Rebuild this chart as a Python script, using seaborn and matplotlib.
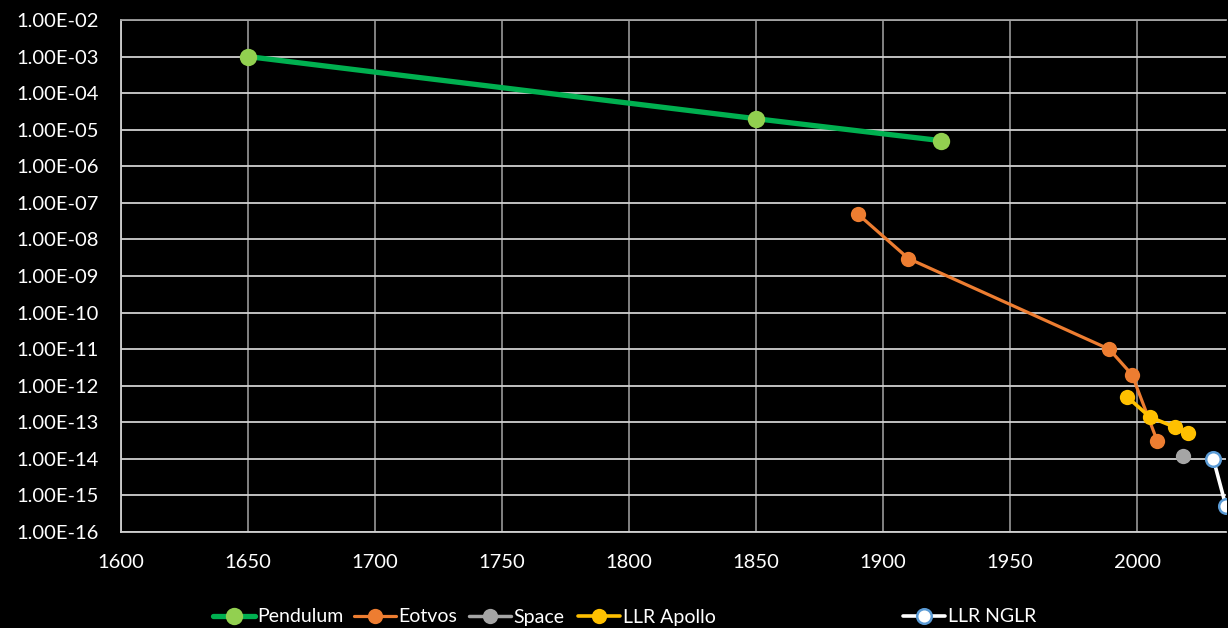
import numpy as np
import pandas as pd
import matplotlib
matplotlib.use("Agg")
import matplotlib.pyplot as plt
import matplotlib.ticker as mticker
from matplotlib.lines import Line2D
import seaborn as sns

# ---- data ----
pendulum_year = [1650, 1850, 1923]
pendulum_val = [1e-3, 2e-5, 5e-6]
eotvos_year = [1890, 1910, 1989, 1998, 2008]
eotvos_val = [5e-8, 3e-9, 1e-11, 2e-12, 3e-14]
space_year = [2018]
space_val = [1.2e-14]
apollo_year = [1996, 2005, 2015, 2020]
apollo_val = [5e-13, 1.4e-13, 7.3e-14, 5e-14]
nglr_year = [2030, 2035]
nglr_val = [1e-14, 5e-16]

series_names = ["Pendulum", "Eotvos", "Space", "LLR Apollo", "LLR NGLR"]

sns.set_theme(style="dark")
plt.rcParams["font.family"] = ["Lato", "DejaVu Sans"]

W, H = 1228, 628
fig = plt.figure(figsize=(W / 100, H / 100), dpi=100, facecolor="black")
ax = fig.add_axes([121 / W, (H - 532) / H, (1226 - 121) / W, (532 - 20) / H])
ax.set_facecolor("black")

styles = [
    dict(line="#00B050", face="#92D050", edge="#92D050", lw=3.8, ms=12.5),
    dict(line="#ED7D31", face="#ED7D31", edge="#ED7D31", lw=2.3, ms=11),
    dict(line="#A5A5A5", face="#A5A5A5", edge="#A5A5A5", lw=2.5, ms=11),
    dict(line="#FFC000", face="#FFC000", edge="#FFC000", lw=2.6, ms=11),
    dict(line="#FFFFFF", face="#FFFFFF", edge="#5B9BD5", lw=2.6, ms=10.5),
]
data = [
    (pendulum_year, pendulum_val),
    (eotvos_year, eotvos_val),
    (space_year, space_val),
    (apollo_year, apollo_val),
    (nglr_year, nglr_val),
]

for name, (xs, ys), st in zip(series_names, data, styles):
    df = pd.DataFrame({"year": xs, "value": ys})
    sns.lineplot(data=df, x="year", y="value", ax=ax, color=st["line"],
                 linewidth=st["lw"], marker="o", markersize=st["ms"],
                 markerfacecolor=st["face"], markeredgecolor=st["edge"],
                 markeredgewidth=1.8 if name == "LLR NGLR" else 0,
                 zorder=3, legend=False)

ax.set_yscale("log")
ax.set_ylim(1e-16, 1e-2)
ax.set_xlim(1600, 2035)
ax.yaxis.set_major_locator(mticker.FixedLocator(10.0 ** np.arange(-16, -1)))
ax.yaxis.set_minor_locator(mticker.NullLocator())
ax.yaxis.set_major_formatter(mticker.FuncFormatter(lambda v, p: f"{v:.2E}"))
ax.xaxis.set_major_locator(mticker.MultipleLocator(50))
ax.xaxis.set_major_formatter(mticker.FuncFormatter(lambda v, p: f"{int(v)}"))

ax.grid(True, axis="y", color="#D0D0D0", linewidth=1.3, zorder=1)
ax.grid(True, axis="x", color="#8C8C8C", linewidth=1.3, zorder=1)
ax.set_axisbelow(True)
ax.spines["right"].set_visible(False)
ax.spines["top"].set_visible(True)
ax.spines["top"].set_color("#A0A0A0")
ax.spines["top"].set_linewidth(1.3)
for side in ["left", "bottom"]:
    ax.spines[side].set_visible(True)
    ax.spines[side].set_color("#D0D0D0")
    ax.spines[side].set_linewidth(1.3)

ax.tick_params(axis="both", length=0, colors="white", labelsize=14.5)
ax.tick_params(axis="y", pad=16)
ax.tick_params(axis="x", pad=16)
ax.set_xlabel("")
ax.set_ylabel("")

# legend entries, each placed at its handle start
legend_x = [213, 354, 469, 578, 903]
for name, st, lx in zip(series_names, styles, legend_x):
    h = Line2D([0], [0], color=st["line"], linewidth=st["lw"], marker="o",
               markersize=st["ms"], markerfacecolor=st["face"],
               markeredgecolor=st["edge"],
               markeredgewidth=1.8 if name == "LLR NGLR" else 0)
    leg = fig.legend([h], [name], loc="center left", bbox_to_anchor=(lx / W, 1 - 617 / H),
                     frameon=False, fontsize=14, handlelength=2.15, handletextpad=0.15,
                     borderpad=0, borderaxespad=0)
    for t in leg.get_texts():
        t.set_color("white")

fig.savefig("out.png", dpi=100, facecolor="black")
